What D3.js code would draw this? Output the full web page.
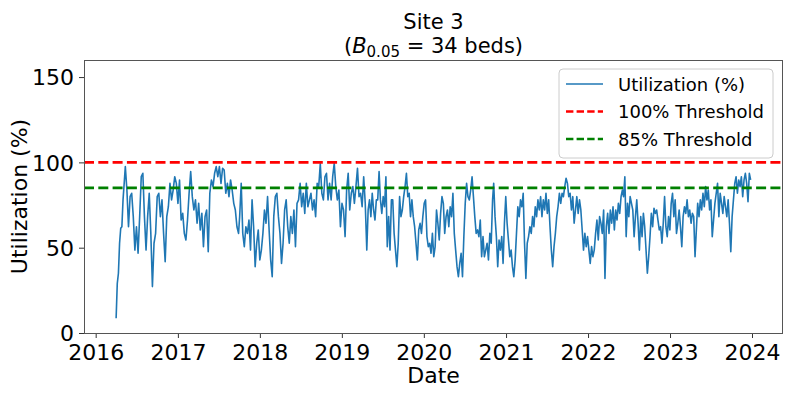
<!DOCTYPE html>
<html><head><meta charset="utf-8">
<script src="https://cdn.jsdelivr.net/npm/d3@7"></script>
<style>body{margin:0;background:#fff}svg{display:block}text{font-family:"DejaVu Sans",sans-serif;fill:#000}</style>
</head><body><svg id="c" width="793" height="397"></svg>
<script>
// Utilization (%), by segment (evenly spaced samples between segment start/end dates)
const segDates = [
  ["2016-04-01","2016-05-12"],
  ["2016-05-19","2017-09-28"],
  ["2017-10-03","2019-04-22"],
  ["2019-04-28","2020-11-02"],
  ["2020-11-07","2022-06-03"],
  ["2022-06-08","2023-12-26"]
];
const valsA = [8.6,29,35,52.6,61.4,62.3,78,87.7,97.5];
const vals1 = [83.8,62.3,79.9,81.9,68.2,48.6,62.3,46.7,68.2,91.6,93.6,68.2,48.6,68.2,81.9,58.4,27.2,52.6,58.4,79.9,81.9,68.2,78,58.4,41.8,68.2,74,87.7,78,83.8,91.6,87.7,76,89.7,66.2,70.1,58.4,54.5,66.2,81.9,94.6,79.9,72.1,78,64.3,76,60.4,70.1,50.6,68.2,72.1,47.7,81.9,89.7,85.8,93.6,97.5,91.6,97.5,87.7,96.5,95.5,81.9,87.7,79.9,89.7,83.8,76,72.1,62.3,58.4];
const vals2 = [68.2,87.7,58.4,50.6,62.3,58.4,66.2,48.6,78,62.3,38.9,52.6,60.4,42.8,48.6,58.4,72.1,64.3,79.9,60.4,42.8,33,68.2,79.9,81.9,68.2,58.4,40.8,52.6,72.1,78,62.3,52.6,68.2,58.4,72.1,50.6,76,78,87.7,74,81.9,70.1,87.7,74,78,81.9,72.1,78,68.2,87.7,85.8,99.1,81.9,78,91.6,93.6,78,87.7,78,91.6,99.5,85.8,78,83.8,62.3,76,72.1,56.5,83.8,93.6,72.1,81.9,85.8,76,85.8,96.5,79.9,81.9,74,91.6,76,48.6];
const vals3 = [72.1,78,68.2,81.9,72.1,66.2,78,78,94.6,78,70.1,79.9,74,91.6,50.6,68.2,48.6,78,78,58.4,48.6,38.9,52.6,79.9,68.2,72.1,79.9,85.8,93.6,79.9,81.9,68.2,78,68.2,62.3,52.6,42.8,60.4,64.3,58.4,68.2,76,78,56.5,50.6,52.6,46.7,58.4,44.7,50.6,72.1,64.3,54.5,70.1,79.9,76,58.4,68.2,72.1,62.3,74,68.2,81.9,58.4,48.6,38.9,33,40.8,46.7,33,56.5,76,87.7,79.9,78,83.8,91.6,79.9,68.2,58.4,60.4,56.5,66.2,44.7,56.5,44.7,48.6,52.6,42.8,58.4,52.6,78];
const vals4 = [87.7,68.2,56.5,38.9,54.5,48.6,56.5,40.8,64.3,79.9,64.3,54.5,44.7,48.6,38.9,33,42.8,58.4,74,68.2,78,74,81.9,52.6,32,52.6,56.5,62.3,58.4,68.2,62.3,74,68.2,78,72.1,79.9,68.2,78,72.1,81.9,70.1,78,62.3,48.6,38.9,50.6,58.4,68.2,74,81.9,76,81.9,79.9,85.8,90.7,87.7,79.9,81.9,72.1,79.9,64.3,72.1,79.9,70.1,78,72.1,60.4,48.6,58.4,50.6,56.5,48.6,40.8,50.6,44.7,48.6,58.4,66.2,54.5,68.2,64.3,58.4,72.1,32,62.3,70.1,58.4,72.1,64.3,74,60.4,72.1,66.2,76,70.1,79.9,83.8];
const vals5 = [79.9,91.6,56.5,76,68.2,79.9,76,72.1,56.5,68.2,78,64.3,48.6,68.2,56.5,70.1,62.3,48.6,35,44.7,56.5,70.1,62.3,73.1,70.1,72.1,66.2,60.4,62.3,52.6,64.3,79.9,62.3,56.5,68.2,60.4,76,81.9,68.2,78,58.4,64.3,72.1,62.3,50.6,68.2,74,70.1,78,68.2,72.1,64.3,70.1,68.2,44.7,60.4,76,68.2,78,72.1,81.9,74,85.8,78,83.8,72.1,78,56.5,66.2,76,81.9,87.7,68.2,81.9,76,70.1,79.9,74,68.2,78,64.3,47.7,68.2,78,87.7,91.6,81.9,89.7,85.8,91.6,79.9,89.7,93.6,87.7,77,93.6,89.7];
const segValues = [valsA, vals1, vals2, vals3, vals4, vals5];
const yTicks = [0, 50, 100, 150];
const xTickYears = [2016, 2017, 2018, 2019, 2020, 2021, 2022, 2023, 2024];
const thresholds = [{label:"100% Threshold", value:100, color:"#ff0000"}, {label:"85% Threshold", value:85, color:"#008000"}];
const seriesLabel = "Utilization (%)";

const parse = d3.utcParse("%Y-%m-%d");
const data = [];
segValues.forEach((vals, i) => {
  const t0 = parse(segDates[i][0]).getTime(), t1 = parse(segDates[i][1]).getTime();
  vals.forEach((v, j) => {
    const t = vals.length > 1 ? t0 + (t1 - t0) * j / (vals.length - 1) : t0;
    data.push({date: new Date(t), value: v});
  });
});

const L = 84, R = 783, T = 60, B = 333;
const svg = d3.select("#c");
const x = d3.scaleUtc().domain([parse("2015-11-10"), parse("2024-05-18")]).range([L, R]);
const y = d3.scaleLinear().domain([0, 160]).range([B, T]);

// series
svg.append("path").datum(data)
  .attr("d", d3.line().x(d => x(d.date)).y(d => y(d.value)))
  .attr("fill", "none").attr("stroke", "#1f77b4").attr("stroke-width", 1.6).attr("stroke-linejoin", "round");

// thresholds
svg.selectAll("line.th").data(thresholds).enter().append("line")
  .attr("x1", L).attr("x2", R).attr("y1", d => y(d.value)).attr("y2", d => y(d.value))
  .attr("stroke", d => d.color).attr("stroke-width", 2.7).attr("stroke-dasharray", "10,4.3");

// axes
const xAxis = d3.axisBottom(x).tickValues(xTickYears.map(yy => new Date(Date.UTC(yy, 0, 1))))
  .tickFormat(d3.utcFormat("%Y")).tickSize(5).tickPadding(6);
const gx = svg.append("g").attr("transform", `translate(0,${B})`).call(xAxis);
const yAxis = d3.axisLeft(y).tickValues(yTicks).tickSize(5).tickPadding(5);
const gy = svg.append("g").attr("transform", `translate(${L},0)`).call(yAxis);
[gx, gy].forEach(g => {
  g.select(".domain").remove();
  g.selectAll(".tick line").attr("stroke", "#333").attr("stroke-width", 1);
  g.selectAll("text").attr("font-size", 22).attr("font-family", "DejaVu Sans").attr("fill", "#000");
});
gx.selectAll("text").attr("dy", null).attr("y", 27);
gy.selectAll("text").attr("dy", "0.36em");

// frame
svg.append("rect").attr("x", L + 0.5).attr("y", T + 0.5).attr("width", R - L - 1).attr("height", B - T)
  .attr("fill", "none").attr("stroke", "#555").attr("stroke-width", 1);

// axis labels
svg.append("text").attr("x", (L + R) / 2).attr("y", 383).attr("text-anchor", "middle").attr("font-size", 22).text("Date");
svg.append("text").attr("transform", `translate(26.5,${(T + B) / 2}) rotate(-90)`).attr("text-anchor", "middle").attr("font-size", 22).text("Utilization (%)");

// title
svg.append("text").attr("x", (L + R) / 2).attr("y", 29).attr("text-anchor", "middle").attr("font-size", 21).text("Site 3");
const t2 = svg.append("text").attr("x", (L + R) / 2).attr("y", 53).attr("text-anchor", "middle").attr("font-size", 21);
t2.append("tspan").text("(");
t2.append("tspan").attr("font-style", "italic").text("B");
t2.append("tspan").attr("font-size", 15).attr("dy", 4).text("0.05");
t2.append("tspan").attr("dy", -4).text(" = 34 beds)");

// legend
const lg = svg.append("g");
lg.append("rect").attr("x", 559).attr("y", 69).attr("width", 214).attr("height", 89).attr("rx", 4)
  .attr("fill", "#fff").attr("fill-opacity", 0.8).attr("stroke", "#cccccc");
const items = [{label: seriesLabel, color: "#1f77b4", dash: null, w: 1.4}]
  .concat(thresholds.map(t => ({label: t.label, color: t.color, dash: "7.4,3.2", w: 2.7})));
items.forEach((it, i) => {
  const yy = 84 + i * 27.5;
  lg.append("line").attr("x1", 566).attr("x2", 603).attr("y1", yy).attr("y2", yy)
    .attr("stroke", it.color).attr("stroke-width", it.w).attr("stroke-dasharray", it.dash);
  lg.append("text").attr("x", 618).attr("y", yy + 6.5).attr("font-size", 18).text(it.label);
});
</script></body></html>
